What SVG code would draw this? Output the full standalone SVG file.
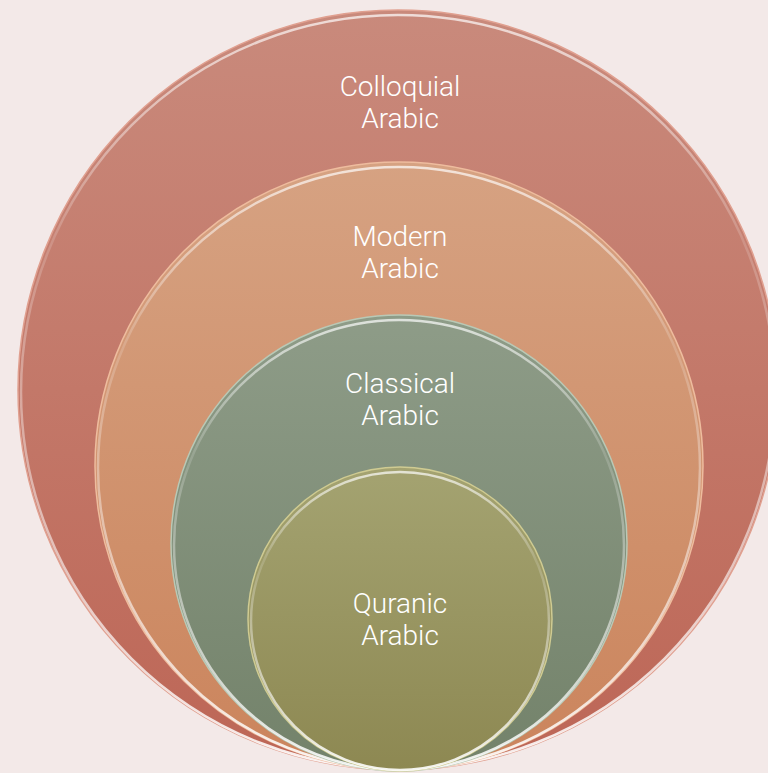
<svg xmlns="http://www.w3.org/2000/svg" width="768" height="773" viewBox="0 0 768 773">
<defs>
<linearGradient id="gOuter" x1="0" y1="0" x2="0" y2="1"><stop offset="0" stop-color="#c98a7c"/><stop offset="1" stop-color="#bd6656"/></linearGradient>
<linearGradient id="gModern" x1="0" y1="0" x2="0" y2="1"><stop offset="0" stop-color="#d6a282"/><stop offset="1" stop-color="#cb845c"/></linearGradient>
<linearGradient id="gClass" x1="0" y1="0" x2="0" y2="1"><stop offset="0" stop-color="#8e9c88"/><stop offset="1" stop-color="#73826a"/></linearGradient>
<linearGradient id="gQuran" x1="0" y1="0" x2="0" y2="1"><stop offset="0" stop-color="#a4a371"/><stop offset="1" stop-color="#8d8852"/></linearGradient>
<linearGradient id="hl" x1="0" y1="0" x2="0" y2="1"><stop offset="0" stop-color="#fff" stop-opacity="0.7"/><stop offset="0.3" stop-color="#fff" stop-opacity="0.15"/><stop offset="0.6" stop-color="#fff" stop-opacity="0.45"/><stop offset="1" stop-color="#fff" stop-opacity="0.9"/></linearGradient>
</defs>
<style>
.t{font-family:Roboto,"Liberation Sans",sans-serif;font-weight:300;font-size:28px;fill:#ffffff;text-anchor:middle}
.rim{fill:none;stroke:url(#hl);stroke-width:2.5}
</style>
<rect width="768" height="773" fill="#f3e9e8"/>
<g id="colloquial">
<circle cx="398" cy="390" r="380" fill="url(#gOuter)" stroke="#e0a090" stroke-width="1.5"/>
<circle cx="398" cy="392" r="377" class="rim"/>
<text class="t" x="400" y="96">Colloquial</text>
<text class="t" x="400" y="128">Arabic</text>
</g>
<g id="modern">
<circle cx="399" cy="466" r="304" fill="url(#gModern)" stroke="#eebc9e" stroke-width="1.5"/>
<circle cx="399" cy="468" r="301" class="rim"/>
<text class="t" x="400" y="246">Modern</text>
<text class="t" x="400" y="278">Arabic</text>
</g>
<g id="classical">
<circle cx="399" cy="543" r="228" fill="url(#gClass)" stroke="#b9c9b6" stroke-width="1.5"/>
<circle cx="399" cy="545" r="225" class="rim"/>
<text class="t" x="400" y="393">Classical</text>
<text class="t" x="400" y="425">Arabic</text>
</g>
<g id="quranic">
<circle cx="400" cy="619" r="152" fill="url(#gQuran)" stroke="#cfcb92" stroke-width="1.5"/>
<circle cx="400" cy="621" r="149" class="rim"/>
<text class="t" x="400" y="613">Quranic</text>
<text class="t" x="400" y="645">Arabic</text>
</g>
<g id="connectors"/>
</svg>
